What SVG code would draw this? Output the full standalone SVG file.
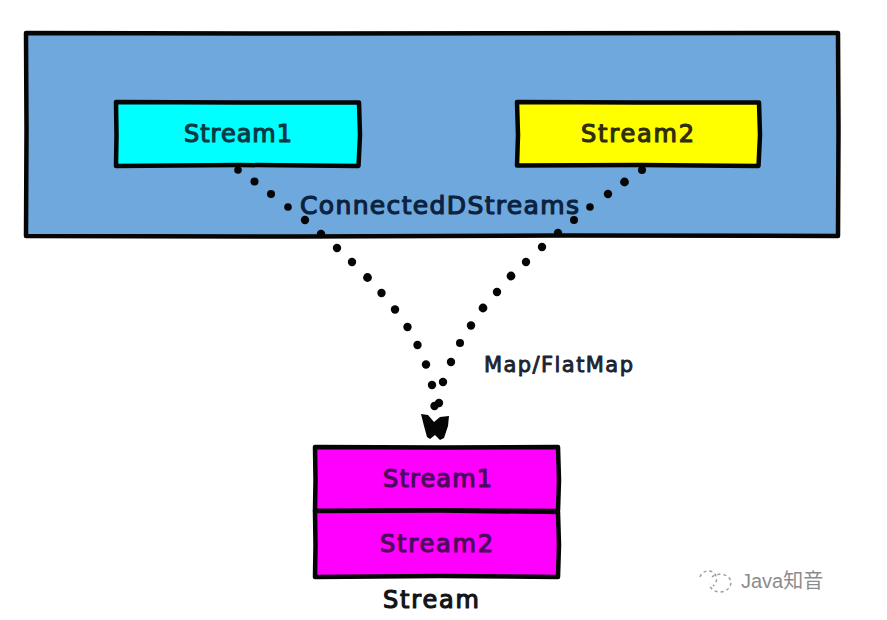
<svg xmlns="http://www.w3.org/2000/svg" width="887" height="620" viewBox="0 0 887 620">
  <style>
    .box { stroke: #050505; stroke-width: 4.500; stroke-linejoin: round; }
    .label { font-family: "DejaVu Sans", "Liberation Sans", sans-serif; font-size: 24px; stroke-width: 1.200; stroke-linejoin: round; }
    .dot { fill: #050505; }
    .mark { font-family: "Liberation Sans", "Noto Sans CJK SC", sans-serif; font-size: 20px; fill: #8c8c8c; }
  </style>
  <rect width="887" height="620" fill="#ffffff"/>

  <g id="connected-dstreams">
    <path class="box" fill="#6fa8dc" d="M26 33 L300 33.500 L838 33 L838.500 130 L838 236 L560 235.500 L300 236.500 L26 236 L26.500 130 Z"/>
    <text class="label" x="300" y="214" textLength="279" lengthAdjust="spacing" fill="#0b2240" stroke="#0b2240" style="font-size:25px">ConnectedDStreams</text>
  </g>

  <g id="connectors">
    <g class="dot">
      <circle cx="238" cy="170" r="3.800"/><circle cx="254.500" cy="181.500" r="4"/><circle cx="271" cy="194" r="4"/><circle cx="288" cy="207" r="3.800"/><circle cx="305" cy="220" r="4.200"/><circle cx="321" cy="234" r="4.200"/>
      <circle cx="337" cy="248" r="4.200"/><circle cx="352" cy="262" r="4.200"/><circle cx="367.500" cy="277.500" r="4.400"/><circle cx="381.500" cy="293" r="4.200"/><circle cx="395" cy="309.500" r="4.200"/><circle cx="407.500" cy="327" r="4.200"/><circle cx="417.500" cy="345" r="4.200"/><circle cx="426" cy="364.500" r="4.200"/><circle cx="432" cy="385" r="4.200"/><circle cx="434.500" cy="406" r="4.200"/>
      <circle cx="642" cy="170" r="4"/><circle cx="624.500" cy="182" r="4.400"/><circle cx="608" cy="194" r="4.200"/><circle cx="590" cy="207" r="3.800"/><circle cx="574" cy="220" r="4"/><circle cx="558" cy="233" r="4.200"/>
      <circle cx="542" cy="247" r="4.200"/><circle cx="526" cy="262" r="4.200"/><circle cx="511" cy="276" r="4.400"/><circle cx="497" cy="292" r="4.200"/><circle cx="483" cy="308" r="4.400"/><circle cx="471" cy="325.500" r="4.200"/><circle cx="460" cy="343" r="4"/><circle cx="451" cy="362" r="4.200"/><circle cx="443" cy="382" r="4.200"/><circle cx="439" cy="403" r="4.200"/>
    </g>
    <path class="dot" d="M421 414 L428 415 L434 422 L440 417 L449 416 L448 426 L444 438 L440 440 L435 435 L430 439 L427 437 L424 426 Z"/>
  </g>

  <g id="stream1-source">
    <path class="box" fill="#00ffff" d="M116 102 L240 102.500 L359 102.500 L360 135 L358.500 166 L240 165 L116 166 L116.500 135 Z"/>
    <text class="label" x="184" y="142" textLength="108" lengthAdjust="spacing" fill="#083a44" stroke="#083a44">Stream1</text>
  </g>

  <g id="stream2-source">
    <path class="box" fill="#ffff00" d="M517 102 L640 102.500 L759 102.500 L760 135 L758.500 166 L640 165 L517 165.500 L518 135 Z"/>
    <text class="label" x="581" y="142" textLength="113" lengthAdjust="spacing" fill="#2e2e0a" stroke="#2e2e0a">Stream2</text>
  </g>

  <g id="map-label">
    <text class="label" x="484" y="372" textLength="149" lengthAdjust="spacing" fill="#1c2430" stroke="#1c2430" style="font-size:21px;stroke-width:0.900px">Map/FlatMap</text>
  </g>

  <g id="stream-result">
    <path class="box" fill="#ff00ff" d="M315 447 L440 447.500 L558 447 L559 480 L558 511 L440 510.500 L315 511 L315.500 480 Z"/>
    <path class="box" fill="#ff00ff" d="M315 511 L440 510.500 L558 512 L559 545 L558 577 L440 576 L315 577 L315.500 545 Z"/>
    <text class="label" x="383" y="487" textLength="109" lengthAdjust="spacing" fill="#4d0a5c" stroke="#4d0a5c">Stream1</text>
    <text class="label" x="380" y="552" textLength="113" lengthAdjust="spacing" fill="#4d0a5c" stroke="#4d0a5c">Stream2</text>
    <text class="label" x="383" y="608" textLength="96" lengthAdjust="spacing" fill="#111418" stroke="#111418">Stream</text>
  </g>

  <g id="watermark">
    <g fill="none" stroke="#9a9a9a" stroke-width="1.400" stroke-dasharray="3 3">
      <path d="M700 577 C702 571 709 569 714 573 C718 577 717 583 713 586"/>
      <path d="M712 577 C716 573 726 573 730 579 C733 585 728 592 720 592 C714 592 710 588 709 584"/>
    </g>
    <text class="mark" x="741" y="588">Java知音</text>
  </g>
</svg>
